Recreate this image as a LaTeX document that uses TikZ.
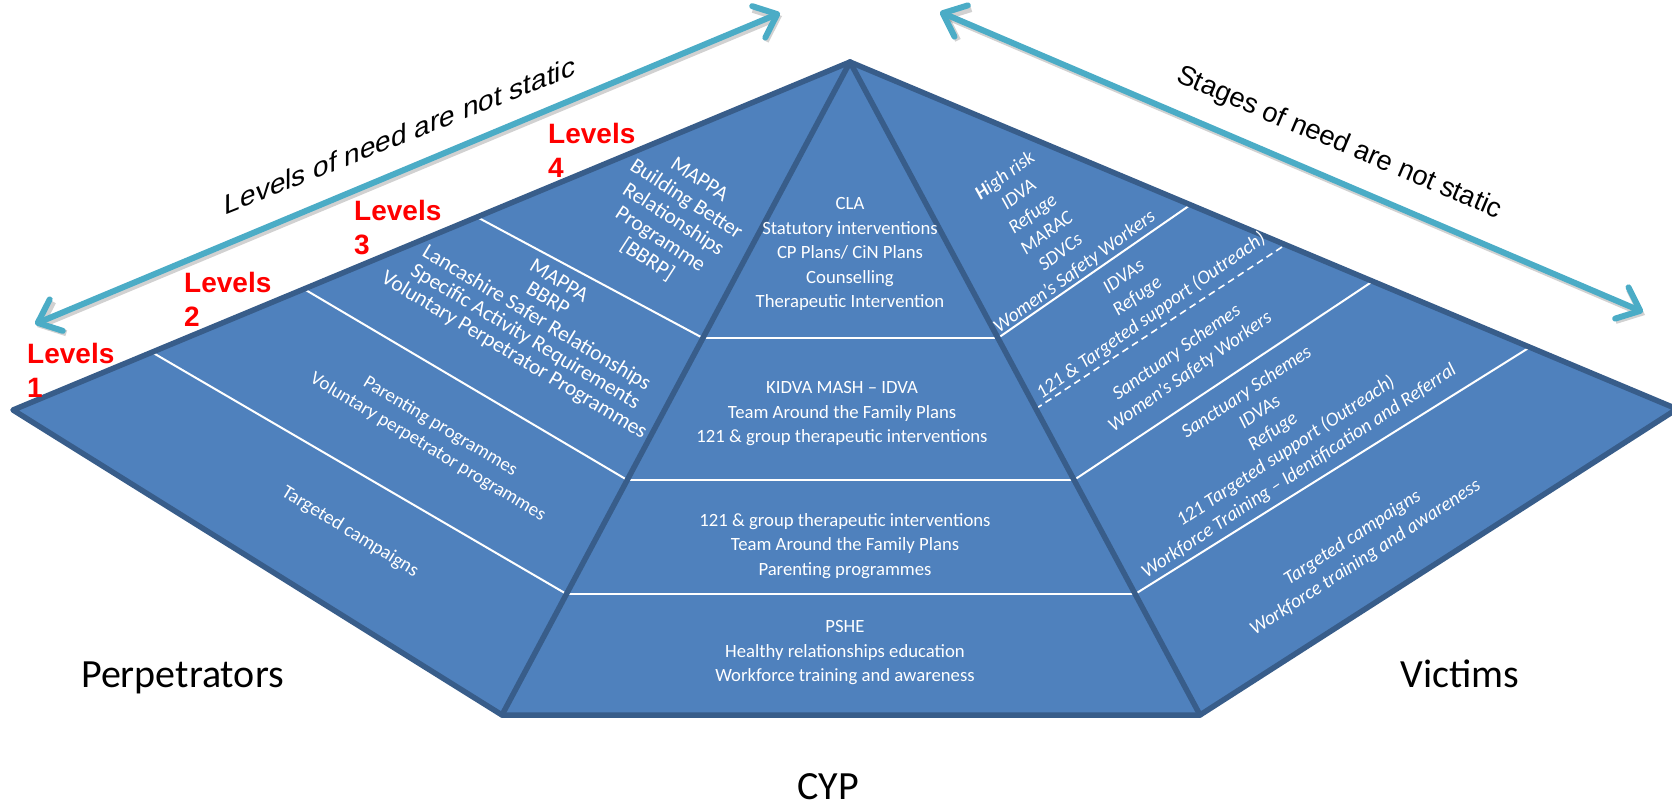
\documentclass[tikz,border=0pt]{standalone}
\usepackage{fontspec}
\setmainfont{Carlito}
\newfontfamily\arialfont{Liberation Sans}
\usetikzlibrary{arrows.meta,calc}
\definecolor{pyrfill}{HTML}{4F81BD}
\definecolor{pyredge}{HTML}{385D8A}
\definecolor{arrowaqua}{HTML}{4BACC6}
\begin{document}
\begin{tikzpicture}[x=1bp,y=-1bp,
  ctr/.style={text=white, align=center, inner sep=0, font=\fontsize{18.7bp}{24.5bp}\selectfont},
  lwing/.style={text=white, align=center, inner sep=0},
  rwing/.style={text=white, align=center, inner sep=0, font=\itshape\fontsize{19.4bp}{23.7bp}\selectfont},
  lvl/.style={text=red, inner sep=0, anchor=base west, font=\arialfont\bfseries\fontsize{28bp}{34bp}\selectfont},
  side/.style={inner sep=0, anchor=base, font=\fontsize{40bp}{48bp}\selectfont},
  arrtext/.style={inner sep=0, font=\arialfont\fontsize{27.5bp}{30bp}\selectfont},
  divider/.style={white, line width=2bp},
  dashdivider/.style={white, line width=1.6bp, dash pattern=on 7bp off 4.5bp},
  rim/.style={draw=pyredge, line width=5.5bp, line join=round, line cap=round},
  dblarrow/.style={arrowaqua, line width=6bp, line cap=round,
    {Straight Barb[length=20bp, width=34bp, line cap=round, line join=round]}-{Straight Barb[length=20bp, width=34bp, line cap=round, line join=round]}},
  arrowshade/.style={black, opacity=0.18, line width=6bp,
    {Straight Barb[length=20bp, width=34bp]}-{Straight Barb[length=20bp, width=34bp]}}
]
\useasboundingbox (0,0) rectangle (1672,807);

% corners of the pyramid
\coordinate (A) at (850,62);
\coordinate (L) at (13,410);
\coordinate (R) at (1677,409);
\coordinate (BL) at (502,715);
\coordinate (BR) at (1200,715);

% body
\fill[pyrfill] (L) -- (A) -- (R) -- (BR) -- (BL) -- cycle;

% band boundaries on the two inner edges
\coordinate (l1) at ($(A)!0.4227!(BL)$);
\coordinate (l2) at ($(A)!0.6401!(BL)$);
\coordinate (l3) at ($(A)!0.8147!(BL)$);
\coordinate (r1) at ($(A)!0.4227!(BR)$);
\coordinate (r2) at ($(A)!0.6401!(BR)$);
\coordinate (r3) at ($(A)!0.8147!(BR)$);
\coordinate (rd) at ($(A)!0.531!(BR)$);
% matching points on the outer top edges
\coordinate (t1) at ($(A)!0.4456!(L)$);
\coordinate (t2) at ($(A)!0.6523!(L)$);
\coordinate (t3) at ($(A)!0.834!(L)$);
\coordinate (u1) at ($(A)!0.4116!(R)$);
\coordinate (ud) at ($(A)!0.5266!(R)$);
\coordinate (u2) at ($(A)!0.632!(R)$);
\coordinate (u3) at ($(A)!0.822!(R)$);

% white band dividers
\draw[divider] (l1) -- (r1);
\draw[divider] (l2) -- (r2);
\draw[divider] (l3) -- (r3);
\draw[divider] (l1) -- (t1);
\draw[divider] (l2) -- (t2);
\draw[divider] (l3) -- (t3);
\draw[divider] (r1) -- (u1);
\draw[divider] (r2) -- (u2);
\draw[divider] (r3) -- (u3);
\draw[dashdivider] (rd) -- (ud);

% dark rims and ridges
\draw[rim] (L) -- (A) -- (R) -- (BR) -- (BL) -- cycle;
\draw[rim] (A) -- (BL);
\draw[rim] (A) -- (BR);

% centre column
\node[ctr] (cla) at (850,254) {CLA\\Statutory interventions\\CP Plans/ CiN Plans\\Counselling\\Therapeutic Intervention};
\node[ctr] (kidva) at (842,414) {KIDVA MASH – IDVA\\Team Around the Family Plans\\121 \& group therapeutic interventions};
\node[ctr] (grp) at (845,546) {121 \& group therapeutic interventions\\Team Around the Family Plans\\Parenting programmes};
\node[ctr] (pshe) at (845,653) {PSHE\\Healthy relationships education\\Workforce training and awareness};

% perpetrators wing
\node[lwing, rotate=-31.5, font=\fontsize{19.4bp}{24bp}\selectfont] (lw1) at (350,532) {Targeted campaigns};
\node[lwing, rotate=-31, font=\fontsize{19bp}{24bp}\selectfont] (lw2) at (434,437) {Parenting programmes\\Voluntary perpetrator programmes};
\node[lwing, rotate=-31, font=\fontsize{21.5bp}{21.7bp}\selectfont] (lw3) at (536,319) {MAPPA\\BBRP\\Lancashire Safer Relationships\\Specific Activity Requirements\\Voluntary Perpetrator Programmes};
\node[lwing, rotate=-33, font=\fontsize{21.5bp}{23.9bp}\selectfont] (lw4) at (673,220) {MAPPA\\Building Better\\Relationships\\Programme\\{[BBRP]}};

% victims wing
\node[rwing, rotate=36] (rw4) at (1040,224) {\textbf{H}igh risk\\IDVA\\Refuge\\MARAC\\SDVCs\\Women’s Safety Workers};
\node[rwing, rotate=35] (rw3) at (1157.5,325) {IDVAs\\Refuge\\121 \& Targeted support (Outreach)\\[21bp]Sanctuary Schemes\\Women’s Safety Workers};
\node[rwing, rotate=33.5] (rw2) at (1273,432) {Sanctuary Schemes\\IDVAs\\Refuge\\121 Targeted support (Outreach)\\Workforce Training – Identification and Referral};
\node[rwing, rotate=33] (rw1) at (1359,548) {Targeted campaigns\\Workforce training and awareness};

% group labels
\node[side] (perp) at (182.5,687) {Perpetrators};
\node[side] (vic) at (1460,687) {Victims};
\node[side] (cyp) at (828,799) {CYP};

% level markers
\node[lvl] (lv1) at (27,363) {Levels};
\node[lvl] (lv1n) at (27,397) {1};
\node[lvl] (lv2) at (184,292) {Levels};
\node[lvl] (lv2n) at (184,326) {2};
\node[lvl] (lv3) at (354,220) {Levels};
\node[lvl] (lv3n) at (354,254) {3};
\node[lvl] (lv4) at (548,143) {Levels};
\node[lvl] (lv4n) at (548,177) {4};

% double-headed arrows
\coordinate (aL1) at (35,324);
\coordinate (aL2) at (780,13);
\coordinate (aR1) at (940,12);
\coordinate (aR2) at (1643,312);
\draw[arrowshade] ([shift={(2,3)}]aL1) -- ([shift={(2,3)}]aL2);
\draw[arrowshade] ([shift={(2,3)}]aR1) -- ([shift={(2,3)}]aR2);
\draw[dblarrow] (aL1) -- (aL2);
\draw[dblarrow] (aR1) -- (aR2);

% captions along the arrows (the left one is sheared, upright strokes)
\node[arrtext, yslant=0.4, font=\arialfont\fontsize{28bp}{30bp}\selectfont] (needL) at (400,135) {Levels of need are not static};
\node[arrtext, rotate=-23] (needR) at (1339,143.5) {Stages of need are not static};
\end{tikzpicture}
\end{document}
